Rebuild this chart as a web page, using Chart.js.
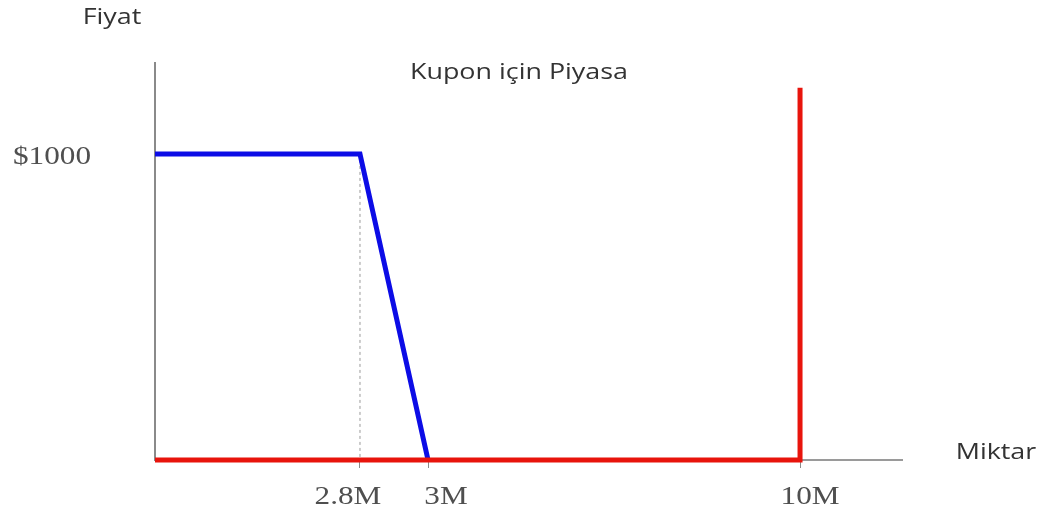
<!DOCTYPE html>
<html>
<head>
<meta charset="utf-8">
<script src="https://cdn.jsdelivr.net/npm/chart.js@4.4.0/dist/chart.umd.min.js"></script>
<style>
html,body{margin:0;padding:0;background:#fff;}
#wrap{width:1042px;height:515px;position:relative;}
</style>
</head>
<body>
<div id="wrap"><canvas id="c" width="1042" height="515"></canvas></div>
<script>
// ---- data ----
const TITLE = 'Kupon için Piyasa';
const Y_AXIS_TITLE = 'Fiyat';
const X_AXIS_TITLE = 'Miktar';
const X_TICKS = [2.8, 3, 10];
const X_TICK_LABELS = ['2.8M', '3M', '10M'];
const Y_TICKS = [1000];
const Y_TICK_LABELS = ['$1000'];
const DEMAND_X = [0, 2.8, 3];
const DEMAND_Y = [1000, 1000, 0];
const SUPPLY_X = [0, 10, 10];
const SUPPLY_Y = [0, 0, 1216];
const GUIDE_X = [2.8, 2.8];
const GUIDE_Y = [1000, 0];
const X_MAX = 12;
const Y_MAX = 1297;

// piecewise (not-to-scale) quantity axis: value breakpoints and their share of the axis
const X_BREAKS = [0, 2.8, 3, 10, X_MAX];
const X_FRACS = [0, 0.2744, 0.3655, 0.8635, 1];

const LinearScale = Chart.LinearScale || Chart.registry.getScale('linear');
class PiecewiseScale extends LinearScale {
  getPixelForValue(v) {
    if (v === null || v === undefined || isNaN(v)) return NaN;
    const b = X_BREAKS, f = X_FRACS;
    let d;
    if (v <= b[0]) d = f[0] + (v - b[0]) * (f[1] - f[0]) / (b[1] - b[0]);
    else if (v >= b[b.length - 1]) d = f[f.length - 1];
    else {
      for (let i = 0; i < b.length - 1; i++) {
        if (v >= b[i] && v <= b[i + 1]) { d = f[i] + (v - b[i]) * (f[i + 1] - f[i]) / (b[i + 1] - b[i]); break; }
      }
    }
    return this.getPixelForDecimal(d);
  }
  getValueForPixel(p) {
    const d = this.getDecimalForPixel(p);
    const b = X_BREAKS, f = X_FRACS;
    for (let i = 0; i < f.length - 1; i++) {
      if (d >= f[i] && d <= f[i + 1]) return b[i] + (d - f[i]) * (b[i + 1] - b[i]) / (f[i + 1] - f[i]);
    }
    return d <= 0 ? b[0] : b[b.length - 1];
  }
}
PiecewiseScale.id = 'piecewise';
PiecewiseScale.defaults = {};
Chart.register(PiecewiseScale);

function pts(xs, ys) { return xs.map((x, i) => ({ x: x, y: ys[i] })); }

function stretchText(ctx, text, x, y, sx, align) {
  ctx.save();
  ctx.translate(x, y);
  ctx.scale(sx, 1);
  ctx.textAlign = align;
  ctx.fillText(text, 0, 0);
  ctx.restore();
}

const textPlugin = {
  id: 'texts',
  afterDraw(chart) {
    const ctx = chart.ctx;
    const xs = chart.scales.x, ys = chart.scales.y;
    ctx.save();
    ctx.textBaseline = 'middle';
    // sans labels
    ctx.fillStyle = '#333333';
    ctx.font = '21px "Open Sans"';
    stretchText(ctx, Y_AXIS_TITLE, 112, 18, 1.28, 'center');
    stretchText(ctx, TITLE, 519, 73, 1.28, 'center');
    stretchText(ctx, X_AXIS_TITLE, 996, 453, 1.28, 'center');
    // serif tick labels
    ctx.fillStyle = '#4f4f4f';
    ctx.font = '26px "Liberation Serif"';
    Y_TICKS.forEach((v, i) => {
      stretchText(ctx, Y_TICK_LABELS[i], xs.left - 64, ys.getPixelForValue(v) + 3, 1.2, 'right');
    });
    const shift = [-12, 18, 10];
    X_TICKS.forEach((v, i) => {
      stretchText(ctx, X_TICK_LABELS[i], xs.getPixelForValue(v) + shift[i], 497, 1.2, 'center');
    });
    ctx.restore();
  }
};

new Chart(document.getElementById('c'), {
  type: 'line',
  data: {
    datasets: [
      {
        label: 'Arz',
        data: pts(SUPPLY_X, SUPPLY_Y),
        borderColor: '#e8140c',
        borderWidth: 5,
        pointRadius: 0,
        tension: 0,
        fill: false,
        clip: false,
        borderJoinStyle: 'miter',
        order: 0
      },
      {
        label: 'Talep',
        data: pts(DEMAND_X, DEMAND_Y),
        borderColor: '#0c0ce6',
        borderWidth: 5,
        pointRadius: 0,
        tension: 0,
        fill: false,
        clip: false,
        borderJoinStyle: 'miter',
        order: 1
      },
      {
        label: 'guide',
        data: pts(GUIDE_X, GUIDE_Y),
        borderColor: '#9a9a9a',
        borderWidth: 1,
        borderDash: [3, 3],
        pointRadius: 0,
        tension: 0,
        fill: false,
        clip: false,
        order: 2
      }
    ]
  },
  options: {
    responsive: false,
    animation: false,
    events: [],
    layout: { padding: { left: 155, right: 140, top: 63, bottom: 47 } },
    plugins: { legend: { display: false }, tooltip: { enabled: false }, title: { display: false } },
    scales: {
      x: {
        type: 'piecewise',
        min: 0,
        max: X_MAX,
        afterBuildTicks(scale) { scale.ticks = X_TICKS.map(v => ({ value: v })); },
        ticks: { display: false },
        grid: { display: true, drawOnChartArea: false, drawTicks: true, tickLength: 8, color: '#8a8a8a', lineWidth: 1 },
        border: { display: true, color: '#9a9a9a', width: 2 }
      },
      y: {
        type: 'linear',
        min: 0,
        max: Y_MAX,
        afterBuildTicks(scale) { scale.ticks = Y_TICKS.map(v => ({ value: v })); },
        ticks: { display: false },
        grid: { display: false, drawTicks: false },
        border: { display: true, color: '#8a8a8a', width: 2 }
      }
    }
  },
  plugins: [textPlugin]
});
</script>
</body>
</html>
